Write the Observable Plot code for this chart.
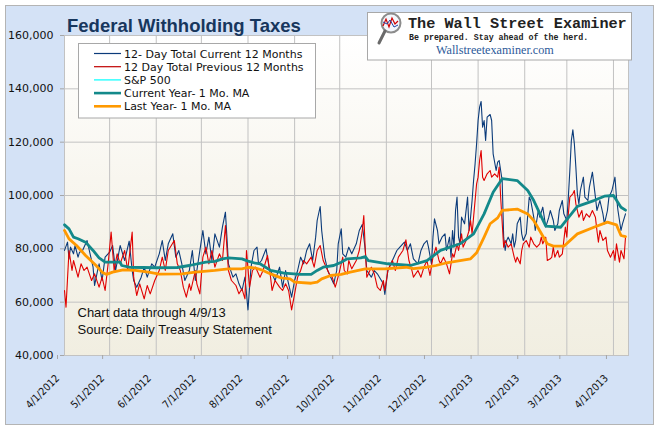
<!DOCTYPE html>
<html><head><meta charset="utf-8">
<script src="https://cdn.jsdelivr.net/npm/d3@7"></script>
<script src="https://cdn.jsdelivr.net/npm/@observablehq/plot@0.6"></script>
<style>
html,body{margin:0;padding:0;background:#fff;}
#wrap{position:relative;width:658px;height:429px;overflow:hidden;}
#panel{position:absolute;left:5px;top:5px;width:647px;height:418px;background:#d4e2f6;border:1px solid #b4b4b4;}
#chart{position:absolute;left:0;top:0;}
#over{position:absolute;left:0;top:0;pointer-events:none;}
#chart svg [aria-label="x-axis tick"], #chart svg [aria-label="y-axis tick"]{stroke:#a6a6a6;}
</style></head>
<body>
<div id="wrap"><div id="panel"></div><div id="chart"></div>
<svg id="over" width="658" height="429" xmlns="http://www.w3.org/2000/svg"></svg></div>
<script>
// ---- data (day offset from 2012-04-01, value) ----
const startDate = "2012-04-01";
const dataEndLabel = "Chart data through 4/9/13";
const sourceLabel = "Source: Daily Treasury Statement";
const titleText = "Federal Withholding Taxes";
const yTicks = [40000, 60000, 80000, 100000, 120000, 140000, 160000];

const current12Day = [
[0,79400],[2,82500],[3,76250],[4,80625],[6,78125],[7,81250],[9,76875],[10,78750],[12,79400],[15,83125],[19,73125],[20,66250],[22,71875],[23,74375],[25,68125],[27,76875],[30,78750],[32,81250],[34,71875],[37,81250],[40,75625],[43,82875],[45,71875],[46,68125],[48,65625],[51,69375],[53,73125],[55,69375],[58,74375],[60,73125],[63,78125],[65,83125],[67,75625],[69,81875],[72,85625],[74,76875],[76,79375],[78,74375],[80,68125],[83,71875],[85,79375],[87,68125],[89,75625],[92,86875],[94,78125],[96,84375],[98,75625],[100,85625],[103,80625],[105,88125],[107,93750],[108,84375],[109,74375],[112,69375],[114,70625],[116,66875],[118,64375],[120,69375],[122,57125],[124,73125],[126,79375],[128,80625],[129,74375],[131,75625],[134,80000],[136,73125],[138,70625],[140,68125],[143,73125],[145,65625],[147,71875],[149,66875],[151,61875],[153,68125],[155,71875],[157,76875],[159,74375],[161,79375],[163,81875],[165,75625],[167,84375],[168,90625],[170,95875],[171,86875],[173,76875],[175,71875],[177,69375],[179,66875],[181,71875],[182,81875],[184,87500],[185,78125],[187,76875],[189,80625],[191,78125],[194,81875],[196,86875],[198,89125],[199,84375],[200,79375],[201,71875],[204,69375],[206,71875],[208,70625],[210,68750],[212,66875],[213,62875],[215,71875],[217,74375],[219,76875],[221,79375],[223,80625],[226,82500],[228,79375],[230,81875],[232,76250],[235,74375],[237,79375],[239,81875],[241,83125],[242,80625],[244,74375],[245,84375],[246,91250],[248,86875],[249,81875],[251,84375],[253,85625],[254,79375],[256,84375],[257,76875],[258,86875],[259,80625],[260,94375],[261,99375],[262,84375],[263,81875],[264,91875],[266,89375],[268,99375],[269,86875],[270,91875],[271,98125],[272,105625],[273,111875],[274,119375],[275,128125],[276,133125],[277,135250],[278,125625],[279,128125],[280,120625],[281,129375],[283,130375],[284,128125],[285,115625],[287,109375],[288,112500],[289,113125],[291,105625],[292,84375],[293,79375],[294,83125],[295,84375],[297,81875],[298,85625],[299,80625],[300,83125],[301,89375],[303,91875],[304,85625],[305,83125],[307,85625],[309,99375],[310,98125],[312,91875],[313,86875],[315,94375],[316,91875],[318,95625],[320,88125],[322,91875],[323,94375],[325,90625],[326,86875],[328,89375],[329,94375],[331,98125],[332,93125],[334,90625],[335,99375],[336,109375],[337,120625],[338,124625],[339,119375],[340,110625],[341,100625],[342,96875],[343,101875],[345,106875],[346,99375],[348,98125],[349,103125],[351,108750],[353,99375],[354,94375],[356,98125],[358,93125],[359,89375],[361,94375],[362,99375],[364,101875],[366,106875],[367,99375],[368,94375],[370,86875],[371,89375],[373,93125]
];
const previous12Day = [
[0,64375],[1,58125],[3,79375],[5,71875],[6,75625],[9,69375],[11,74375],[13,71875],[15,73125],[18,68125],[20,70625],[23,65625],[25,69375],[27,64375],[29,74375],[31,86250],[33,71875],[35,78125],[37,74375],[40,79375],[42,71875],[45,86250],[46,69375],[48,62500],[50,66875],[53,61250],[55,66250],[57,63125],[60,68125],[63,71875],[65,76875],[67,71875],[69,79375],[73,83125],[75,74375],[77,71875],[79,65625],[81,61875],[83,66875],[84,64375],[87,71875],[88,66875],[90,63125],[92,76875],[94,80625],[96,74375],[98,79375],[100,73125],[103,78125],[105,75625],[107,88750],[109,71875],[111,68125],[114,66250],[116,63125],[118,65000],[120,61250],[121,79375],[123,65625],[125,71875],[127,73125],[128,71875],[130,69375],[132,71875],[135,77500],[137,69375],[138,64375],[140,68125],[143,65625],[145,64375],[147,66875],[149,64375],[151,57125],[153,63125],[155,69375],[157,71875],[159,75625],[161,74375],[164,76875],[166,73125],[168,79375],[170,81250],[172,75625],[174,73125],[176,70625],[178,69375],[180,65625],[181,67500],[183,71875],[185,76875],[186,71875],[188,70625],[189,75625],[191,72500],[194,75625],[196,79375],[198,86875],[199,92500],[200,79375],[201,69375],[204,73125],[206,70625],[208,65625],[210,64375],[212,68125],[213,64375],[215,71875],[218,75625],[220,71875],[222,76875],[225,79375],[227,83375],[229,75625],[231,71875],[232,69375],[235,71875],[237,69375],[239,73125],[241,75625],[243,70000],[245,76875],[247,80625],[249,75625],[250,74375],[252,76875],[253,75625],[254,74375],[256,70625],[258,78125],[259,76875],[261,81875],[262,79375],[264,85625],[265,80625],[267,83125],[269,86875],[270,90625],[271,85625],[272,91875],[274,104375],[275,106875],[276,113125],[277,116875],[278,106875],[279,105625],[281,108125],[283,109375],[284,106875],[286,108125],[288,106875],[289,110625],[290,99375],[292,80625],[293,83125],[295,80625],[297,81875],[299,76875],[300,75000],[301,76875],[303,74375],[304,79375],[305,81875],[307,83125],[309,80625],[310,84375],[312,81875],[314,80625],[316,81875],[317,84375],[318,81875],[320,84375],[321,75625],[323,76250],[324,76875],[325,80625],[326,76875],[328,79375],[329,76875],[331,78125],[333,88125],[334,84375],[335,93125],[336,99375],[338,100625],[339,101875],[340,96875],[342,91875],[344,94375],[345,90625],[347,93125],[349,91875],[351,94375],[353,91875],[354,86875],[355,82500],[356,86875],[358,83125],[360,84375],[361,79375],[363,76875],[365,79375],[366,75625],[367,81875],[369,75000],[370,79375],[372,76250],[373,84375]
];
const currentMA = [
[0,89000],[3,87500],[6,84400],[9,83800],[14,82500],[19,79400],[23,76600],[27,75000],[37,75000],[38,73750],[43,73100],[61,72900],[75,73000],[83,73750],[94,75000],[100,75300],[105,76250],[109,76600],[118,76250],[122,75400],[127,74600],[130,74400],[137,71900],[146,70900],[157,70400],[164,70400],[168,71900],[172,73100],[179,73750],[184,75000],[188,76250],[197,76600],[200,77100],[202,75600],[215,74400],[230,73750],[241,75600],[250,79400],[263,81900],[272,85600],[279,93100],[285,101200],[291,106300],[301,105600],[308,101900],[312,98100],[320,88500],[330,88100],[341,95900],[352,98100],[359,99750],[365,100000],[370,95600],[373,94500]
];
const previousMA = [
[0,86900],[3,83750],[8,81250],[14,77500],[21,73750],[25,71250],[28,70400],[32,71250],[39,72100],[47,71900],[56,71250],[63,70500],[78,70600],[87,71250],[100,71900],[109,72500],[118,72500],[122,73100],[127,72800],[132,71900],[137,70600],[144,69100],[150,68750],[153,67500],[164,67100],[168,67500],[171,68750],[177,70000],[184,70400],[190,71250],[200,72500],[213,72500],[227,73100],[232,72600],[241,73100],[247,73750],[253,74600],[270,76250],[274,78500],[279,84400],[283,89400],[288,91600],[291,94400],[301,94900],[308,93100],[312,90600],[321,81900],[325,81000],[332,81000],[341,85600],[352,88100],[361,90000],[367,89000],[370,85000],[373,84600]
];
const legendNames = ["12- Day Total Current 12 Months","12 Day Total Previous 12 Months","S&P 500","Current Year- 1 Mo. MA","Last Year- 1 Mo. MA"];
const legendColors = ["#0b3b7a","#c00000","#00ffff","#13898a","#ff9900"];
const legendWidths = [1.2,1.2,1.2,2.6,2.6];

// ---- helpers ----
const t0 = Date.parse(startDate + "T00:00:00Z");
const toDate = d => new Date(t0 + d * 864e5);
const xDomain = [toDate(0), toDate(375)];
const monthTicks = d3.utcMonth.range(toDate(0), toDate(376));
const fmtDate = d => `${d.getUTCMonth()+1}/${d.getUTCDate()}/${d.getUTCFullYear()}`;
const X = d => toDate(d[0]), Y = d => d[1];

const gradientDefs = () => {
  const defs = document.createElementNS("http://www.w3.org/2000/svg", "defs");
  defs.innerHTML = '<linearGradient id="plotbg" x1="0" y1="0" x2="0" y2="1"><stop offset="0" stop-color="#ffffff"/><stop offset="0.45" stop-color="#f8f6ef"/><stop offset="1" stop-color="#f1eee1"/></linearGradient>';
  return defs;
};

const chart = Plot.plot({
  width: 658, height: 429,
  marginLeft: 64, marginRight: 30, marginTop: 35, marginBottom: 74,
  style: {background: "transparent", fontFamily: "DejaVu Sans", fontSize: "11px", color: "#111"},
  x: {type: "utc", domain: xDomain, label: null},
  y: {domain: [40000, 160000], label: null},
  marks: [
    gradientDefs,
    Plot.frame({fill: "url(#plotbg)"}),
    Plot.gridX({ticks: monthTicks, stroke: "#c2c2c2", strokeOpacity: 1}),
    Plot.gridY({ticks: yTicks, stroke: "#c2c2c2", strokeOpacity: 1}),
    Plot.frame({stroke: "#c2c2c2"}),
    Plot.line(current12Day, {x: X, y: Y, stroke: "#0b3b7a", strokeWidth: 1.1}),
    Plot.line(previous12Day, {x: X, y: Y, stroke: "#e00000", strokeWidth: 1.1}),
    Plot.line(currentMA, {x: X, y: Y, stroke: "#13898a", strokeWidth: 2.8}),
    Plot.line(previousMA, {x: X, y: Y, stroke: "#ff9900", strokeWidth: 2.8}),
    Plot.text([dataEndLabel + "\n" + sourceLabel], {text: d => d, frameAnchor: "bottom-left", dx: 13, dy: -22, lineAnchor: "bottom", lineHeight: 1.3, fontFamily: "Liberation Sans", fontSize: 13, fill: "#111"}),
    Plot.axisY({ticks: yTicks, tickFormat: d3.format(","), tickSize: 4, tickPadding: 7}),
    Plot.axisX({ticks: monthTicks, tickFormat: fmtDate, tickSize: 4, tickRotate: -45, tickPadding: 17, dx: -7, fontSize: 10.5, fontFamily: "DejaVu Sans Condensed, DejaVu Sans"})
  ]
});
document.getElementById("chart").appendChild(chart);

// ---- overlay: title, legend, logo ----
const NS = "http://www.w3.org/2000/svg";
const over = document.getElementById("over");
function el(tag, attrs, text) {
  const e = document.createElementNS(NS, tag);
  for (const k in attrs) e.setAttribute(k, attrs[k]);
  if (text != null) e.textContent = text;
  over.appendChild(e);
  return e;
}
el("text", {x: 67, y: 32, "font-family": "Liberation Sans", "font-weight": "bold", "font-size": 18.5, fill: "#17365d"}, titleText);

// legend
el("rect", {x: 78.5, y: 43.5, width: 237, height: 74.5, fill: "#fff", stroke: "#a8a8a8"});
legendNames.forEach((name, i) => {
  const cy = 53.5 + i * 13.2;
  el("line", {x1: 94, x2: 121, y1: cy, y2: cy, stroke: legendColors[i], "stroke-width": legendWidths[i]});
  el("text", {x: 124, y: cy + 4, "font-family": "DejaVu Sans", "font-size": 11, fill: "#111"}, name);
});

// logo box
el("rect", {x: 367.5, y: 12.5, width: 264, height: 47.5, fill: "#fff", stroke: "#a8a8a8"});
el("circle", {cx: 391, cy: 23, r: 9.5, fill: "#f3f7fd", stroke: "#8c8c8c", "stroke-width": 2});
el("path", {d: "M383,26 L386,19 L389,27 L392,18 L395,24 L398,21", fill: "none", stroke: "#d00000", "stroke-width": 1.2});
el("path", {d: "M383,22 L387,24 L390,20 L394,27 L398,25", fill: "none", stroke: "#2040a0", "stroke-width": 1});
el("line", {x1: 385, y1: 31, x2: 379, y2: 43, stroke: "#6a6a6a", "stroke-width": 3, "stroke-linecap": "round"});
el("text", {x: 408, y: 28, "font-family": "Liberation Mono", "font-weight": "bold", "font-size": 15.2, fill: "#222"}, "The Wall Street Examiner");
el("text", {x: 409, y: 40, "font-family": "Liberation Mono", "font-weight": "bold", "font-size": 8.3, fill: "#222"}, "Be prepared. Stay ahead of the herd.");
el("text", {x: 436, y: 54, "font-family": "Liberation Serif", "font-size": 12.2, fill: "#2d5a9a"}, "Wallstreetexaminer.com");
</script>
</body></html>
